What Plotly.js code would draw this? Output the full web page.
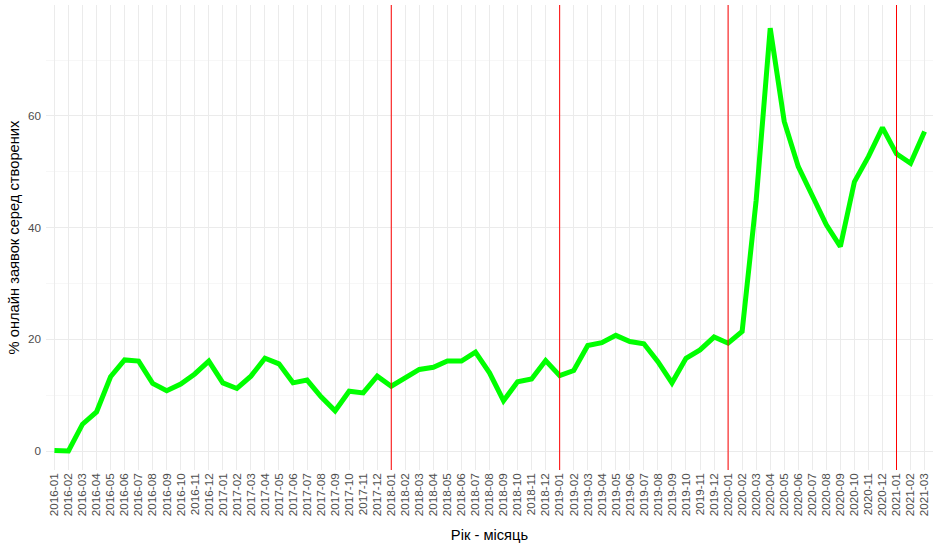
<!DOCTYPE html>
<html>
<head>
<meta charset="utf-8">
<script src="https://cdn.plot.ly/plotly-3.0.1.min.js"></script>
<style>html,body{margin:0;padding:0;background:#fff;}#chart{width:940px;height:550px;}</style>
</head>
<body>
<div id="chart"></div>
<script>
const months = [
  "2016-01","2016-02","2016-03","2016-04","2016-05","2016-06","2016-07","2016-08","2016-09","2016-10","2016-11","2016-12",
  "2017-01","2017-02","2017-03","2017-04","2017-05","2017-06","2017-07","2017-08","2017-09","2017-10","2017-11","2017-12",
  "2018-01","2018-02","2018-03","2018-04","2018-05","2018-06","2018-07","2018-08","2018-09","2018-10","2018-11","2018-12",
  "2019-01","2019-02","2019-03","2019-04","2019-05","2019-06","2019-07","2019-08","2019-09","2019-10","2019-11","2019-12",
  "2020-01","2020-02","2020-03","2020-04","2020-05","2020-06","2020-07","2020-08","2020-09","2020-10","2020-11","2020-12",
  "2021-01","2021-02","2021-03"
];
const onlineShare = [
  0.1, 0.0, 4.8, 7.0, 13.3, 16.3, 16.1, 12.1, 10.8, 12.0, 13.8, 16.1,
  12.2, 11.2, 13.4, 16.6, 15.6, 12.2, 12.7, 9.7, 7.2, 10.7, 10.4, 13.4,
  11.6, 13.2, 14.6, 15.0, 16.1, 16.1, 17.7, 14.0, 9.0, 12.4, 12.9, 16.2,
  13.5, 14.4, 18.9, 19.4, 20.7, 19.6, 19.2, 16.0, 12.2, 16.6, 18.1, 20.4,
  19.3, 21.4, 44.9, 75.7, 59.0, 50.9, 45.5, 40.5, 36.6, 48.2, 52.7, 57.9,
  53.2, 51.5, 57.2
];
const markerMonths = ["2018-01","2019-01","2020-01","2021-01"];
const yTicks = [0, 20, 40, 60];

const trace = {
  x: months,
  y: onlineShare,
  type: 'scatter',
  mode: 'lines',
  line: {color: '#00FF00', width: 5},
  hoverinfo: 'x+y'
};

const shapes = markerMonths.map(m => ({
  type: 'line', xref: 'x', yref: 'paper',
  x0: m, x1: m, y0: 0, y1: 1,
  line: {color: '#FF0000', width: 1},
  layer: 'above'
}));

const layout = {
  width: 940, height: 550,
  margin: {l: 46, r: 7, t: 5, b: 80},
  paper_bgcolor: '#FFFFFF',
  plot_bgcolor: '#FFFFFF',
  showlegend: false,
  font: {family: '"Liberation Sans", Arial, sans-serif', color: '#4D4D4D'},
  xaxis: {
    type: 'category',
    range: [-0.6, months.length - 0.4],
    tickangle: -90,
    tickfont: {size: 11.7, color: '#4D4D4D'},
    showgrid: true, gridcolor: '#EBEBEB', gridwidth: 1,
    zeroline: false, showline: false, ticks: '',
    automargin: false,
    title: {text: 'Рік - місяць', font: {size: 14.7, color: '#000000'}, standoff: 14}
  },
  yaxis: {
    range: [-3.4, 79.85],
    tickvals: yTicks,
    ticktext: yTicks.map(String),
    tickfont: {size: 11.7, color: '#4D4D4D'},
    showgrid: true, gridcolor: '#EBEBEB', gridwidth: 1,
    minor: {dtick: 10, tick0: 0, showgrid: true, gridcolor: '#F2F2F2', gridwidth: 0.6},
    zeroline: false, showline: false, ticks: '',
    ticklabelstandoff: 4,
    automargin: false,
    title: {text: '% онлайн заявок серед створених', font: {size: 14.7, color: '#000000'}, standoff: 4}
  },
  shapes: shapes
};

Plotly.newPlot('chart', [trace], layout, {displayModeBar: false, staticPlot: true});
</script>
</body>
</html>
